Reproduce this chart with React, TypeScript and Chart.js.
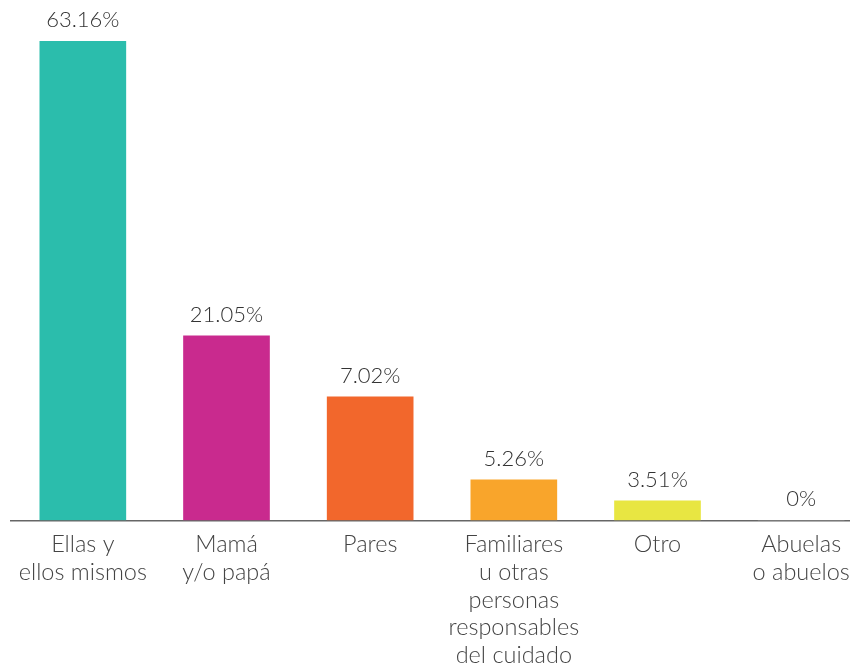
import React, { useEffect, useRef } from "react";
import { Chart, registerables } from "chart.js";

Chart.register(...registerables);

const categories: string[][] = [
  ["Ellas y", "ellos mismos"],
  ["Mamá", "y/o papá"],
  ["Pares"],
  ["Familiares", "u otras", "personas", "responsables", "del cuidado"],
  ["Otro"],
  ["Abuelas", "o abuelos"],
];

// Bar heights as drawn in the picture (the drawn bars are not to the labelled scale)
const barHeights: number[] = [63.16, 24.3, 16.27, 5.33, 2.57, 0];

// Printed value labels
const valueLabels: string[] = ["63.16%", "21.05%", "7.02%", "5.26%", "3.51%", "0%"];

const barColors: string[] = ["#2BBDAC", "#C92A8E", "#F2672C", "#F9A52B", "#E8E642", "#CCCCCC"];

const FONT_FAMILY = "Lato, 'Noto Sans', sans-serif";

const valueLabelPlugin = {
  id: "valueLabels",
  afterDatasetsDraw(chart: any) {
    const { ctx } = chart;
    const meta = chart.getDatasetMeta(0);
    ctx.save();
    ctx.font = `300 22px ${FONT_FAMILY}`;
    ctx.fillStyle = "#333333";
    ctx.textAlign = "center";
    ctx.textBaseline = "alphabetic";
    meta.data.forEach((bar: any, i: number) => {
      ctx.fillText(valueLabels[i], bar.x, bar.y - 14);
    });
    ctx.restore();
  },
};

export default function App() {
  const canvasRef = useRef<HTMLCanvasElement | null>(null);

  useEffect(() => {
    if (!canvasRef.current) return;
    const chart = new Chart(canvasRef.current, {
      type: "bar",
      data: {
        labels: categories,
        datasets: [
          {
            data: barHeights,
            backgroundColor: barColors,
            borderWidth: 0,
            barThickness: 86,
          },
        ],
      },
      options: {
        responsive: false,
        animation: false,
        layout: { padding: { left: 11, right: 7, top: 41, bottom: 0 } },
        plugins: {
          legend: { display: false },
          tooltip: { enabled: false },
        },
        scales: {
          x: {
            grid: { display: false, drawTicks: false },
            border: { display: true, color: "#666666", width: 1.5 },
            ticks: {
              color: "#444444",
              padding: 10.5,
              maxRotation: 0,
              autoSkip: false,
              font: { family: FONT_FAMILY, size: 23.5, weight: "300", lineHeight: 1.18 },
            },
          },
          y: {
            display: false,
            min: 0,
            max: 63.16,
          },
        },
      },
      plugins: [valueLabelPlugin],
    });
    return () => chart.destroy();
  }, []);

  return (
    <div
      style={{
        position: "fixed",
        left: 0,
        top: 0,
        width: 850,
        height: 666,
        overflow: "hidden",
        background: "#ffffff",
      }}
    >
      <canvas ref={canvasRef} width={880} height={680} style={{ display: "block" }} />
    </div>
  );
}
